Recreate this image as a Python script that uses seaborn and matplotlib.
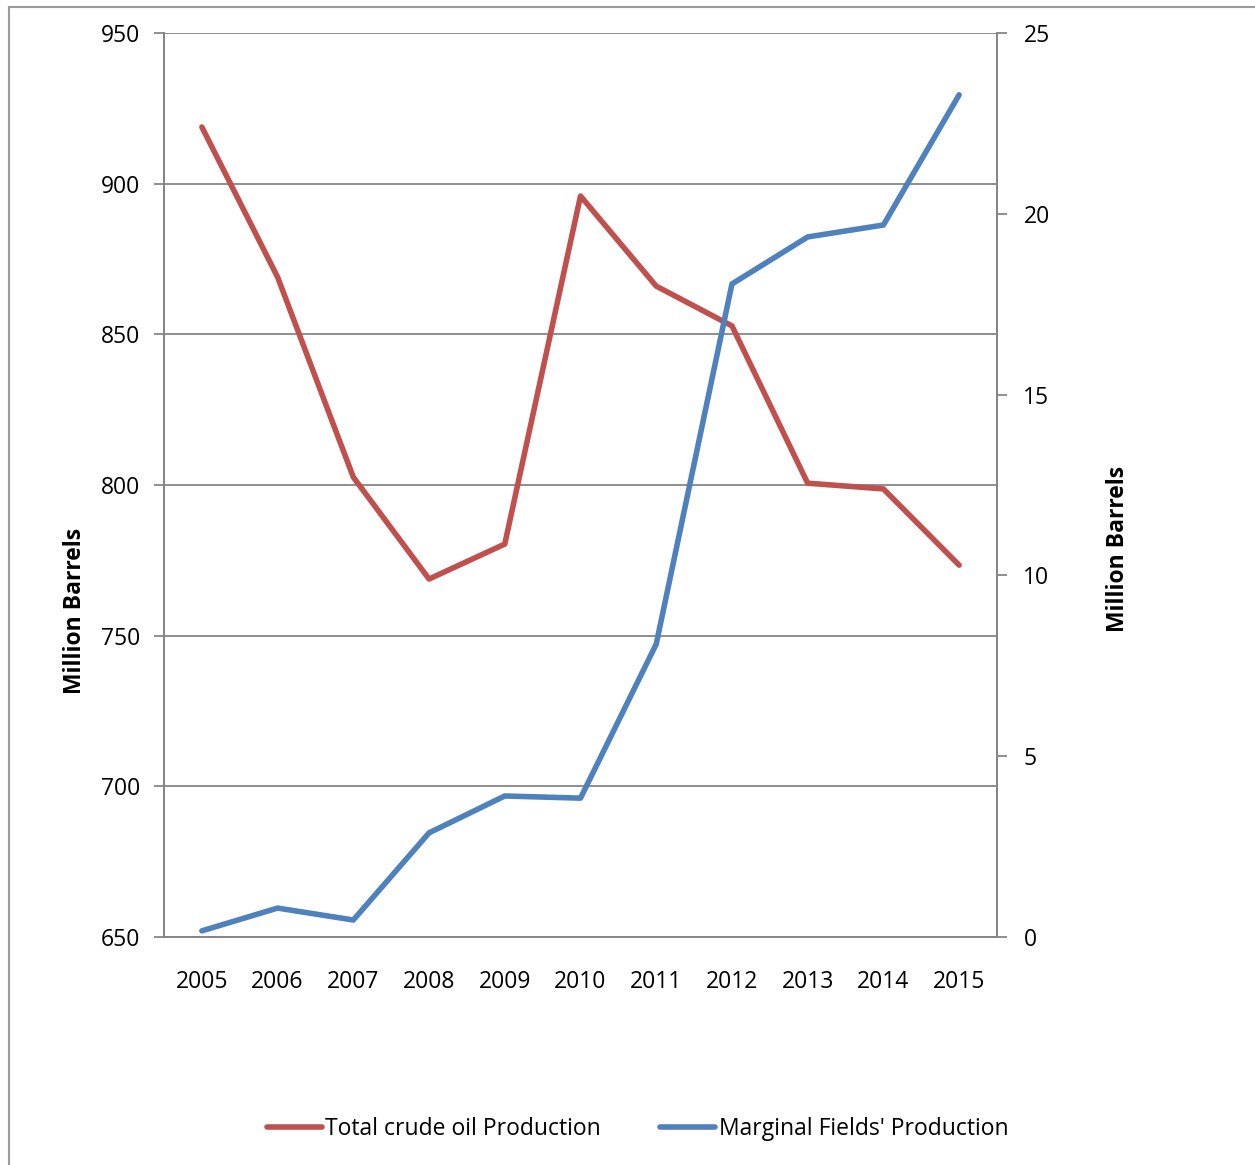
import pandas as pd
import numpy as np
import matplotlib.pyplot as plt
import seaborn as sns
from matplotlib.patches import Rectangle

# Data

years = ['2005', '2006', '2007', '2008', '2009', '2010',
         '2011', '2012', '2013', '2014', '2015']

total_crude = [918.8, 869.0, 802.6, 768.8, 780.4, 895.9,
               866.0, 852.8, 800.6, 798.7, 773.4]

marginal_fields = [0.17, 0.80, 0.47, 2.88, 3.90, 3.84,
                   8.10, 18.06, 19.36, 19.69, 23.29]

left_ticks = [650, 700, 750, 800, 850, 900, 950]
right_ticks = [0, 5, 10, 15, 20, 25]

df = pd.DataFrame({'year': years,
                   'pos': np.arange(len(years)),
                   'total': total_crude,
                   'marginal': marginal_fields})

sns.set_style("white")
plt.rcParams['font.family'] = ['Open Sans', 'DejaVu Sans']
plt.rcParams['text.color'] = 'black'
plt.rcParams['xtick.labelcolor'] = 'black'
plt.rcParams['ytick.labelcolor'] = 'black'

red = '#C0504D'
blue = '#4F81BD'
grey = '#868686'
fs = 16.5

fig = plt.figure(figsize=(12.55, 11.65), dpi=100)

# outer chart border (right/bottom cut off in the original)
fig.patches.append(Rectangle((9 / 1255, -0.1), 1.2, 1 - 7 / 1165 + 0.1,
                             transform=fig.transFigure, fill=False,
                             edgecolor='#9a9a9a', linewidth=1.5))

ax = fig.add_axes([164 / 1255, 228 / 1165, 833 / 1255, 904 / 1165])
ax2 = ax.twinx()

sns.lineplot(data=df, x='pos', y='total', ax=ax, color=red,
             linewidth=4, label='Total crude oil Production', legend=False)
sns.lineplot(data=df, x='pos', y='marginal', ax=ax2, color=blue,
             linewidth=4, label="Marginal Fields' Production", legend=False)

ax.set_xlim(-0.5, len(years) - 0.5)
ax.set_ylim(650, 950)
ax2.set_ylim(0, 25)

ax.set_yticks(left_ticks)
ax2.set_yticks(right_ticks)
ax.grid(axis='y', color=grey, linewidth=1.3)
ax.set_axisbelow(True)

# category ticks between years, labels centred
ax.set_xticks(np.arange(len(years)))
ax.set_xticklabels(years)
ax.set_xticks(np.arange(len(years) + 1) - 0.5, minor=True)
ax.tick_params(axis='x', which='major', length=0, pad=24, labelsize=fs,
               labelcolor='black')
ax.tick_params(axis='x', which='minor', length=7, width=1.3,
               color=grey, direction='out')
ax.tick_params(axis='y', length=7, width=1.3, color=grey,
               direction='out', labelsize=fs, pad=10, labelcolor='black')
ax2.tick_params(axis='y', length=7, width=1.3, color=grey,
                direction='out', labelsize=fs, pad=12, labelcolor='black')

for a in (ax, ax2):
    for s in a.spines.values():
        s.set_color(grey)
        s.set_linewidth(1.3)
ax.spines['top'].set_visible(False)
ax2.spines['top'].set_visible(False)

ax.set_xlabel('')
ax.set_ylabel('')
ax2.set_ylabel('')
fig.text(75 / 1255, 1 - 611 / 1165, 'Million Barrels', rotation=90,
         ha='center', va='center', fontsize=fs, fontweight='bold')
fig.text(1118 / 1255, 1 - 549 / 1165, 'Million Barrels', rotation=90,
         ha='center', va='center', fontsize=fs, fontweight='bold')

h1, l1 = ax.get_legend_handles_labels()
h2, l2 = ax2.get_legend_handles_labels()
fig.legend(h1 + h2, l1 + l2, loc='center', bbox_to_anchor=(0.508, 0.031),
           ncol=2, frameon=False, fontsize=fs, handlelength=2.4,
           handletextpad=0.15, columnspacing=2.6)

plt.savefig('out.png', dpi=100)
